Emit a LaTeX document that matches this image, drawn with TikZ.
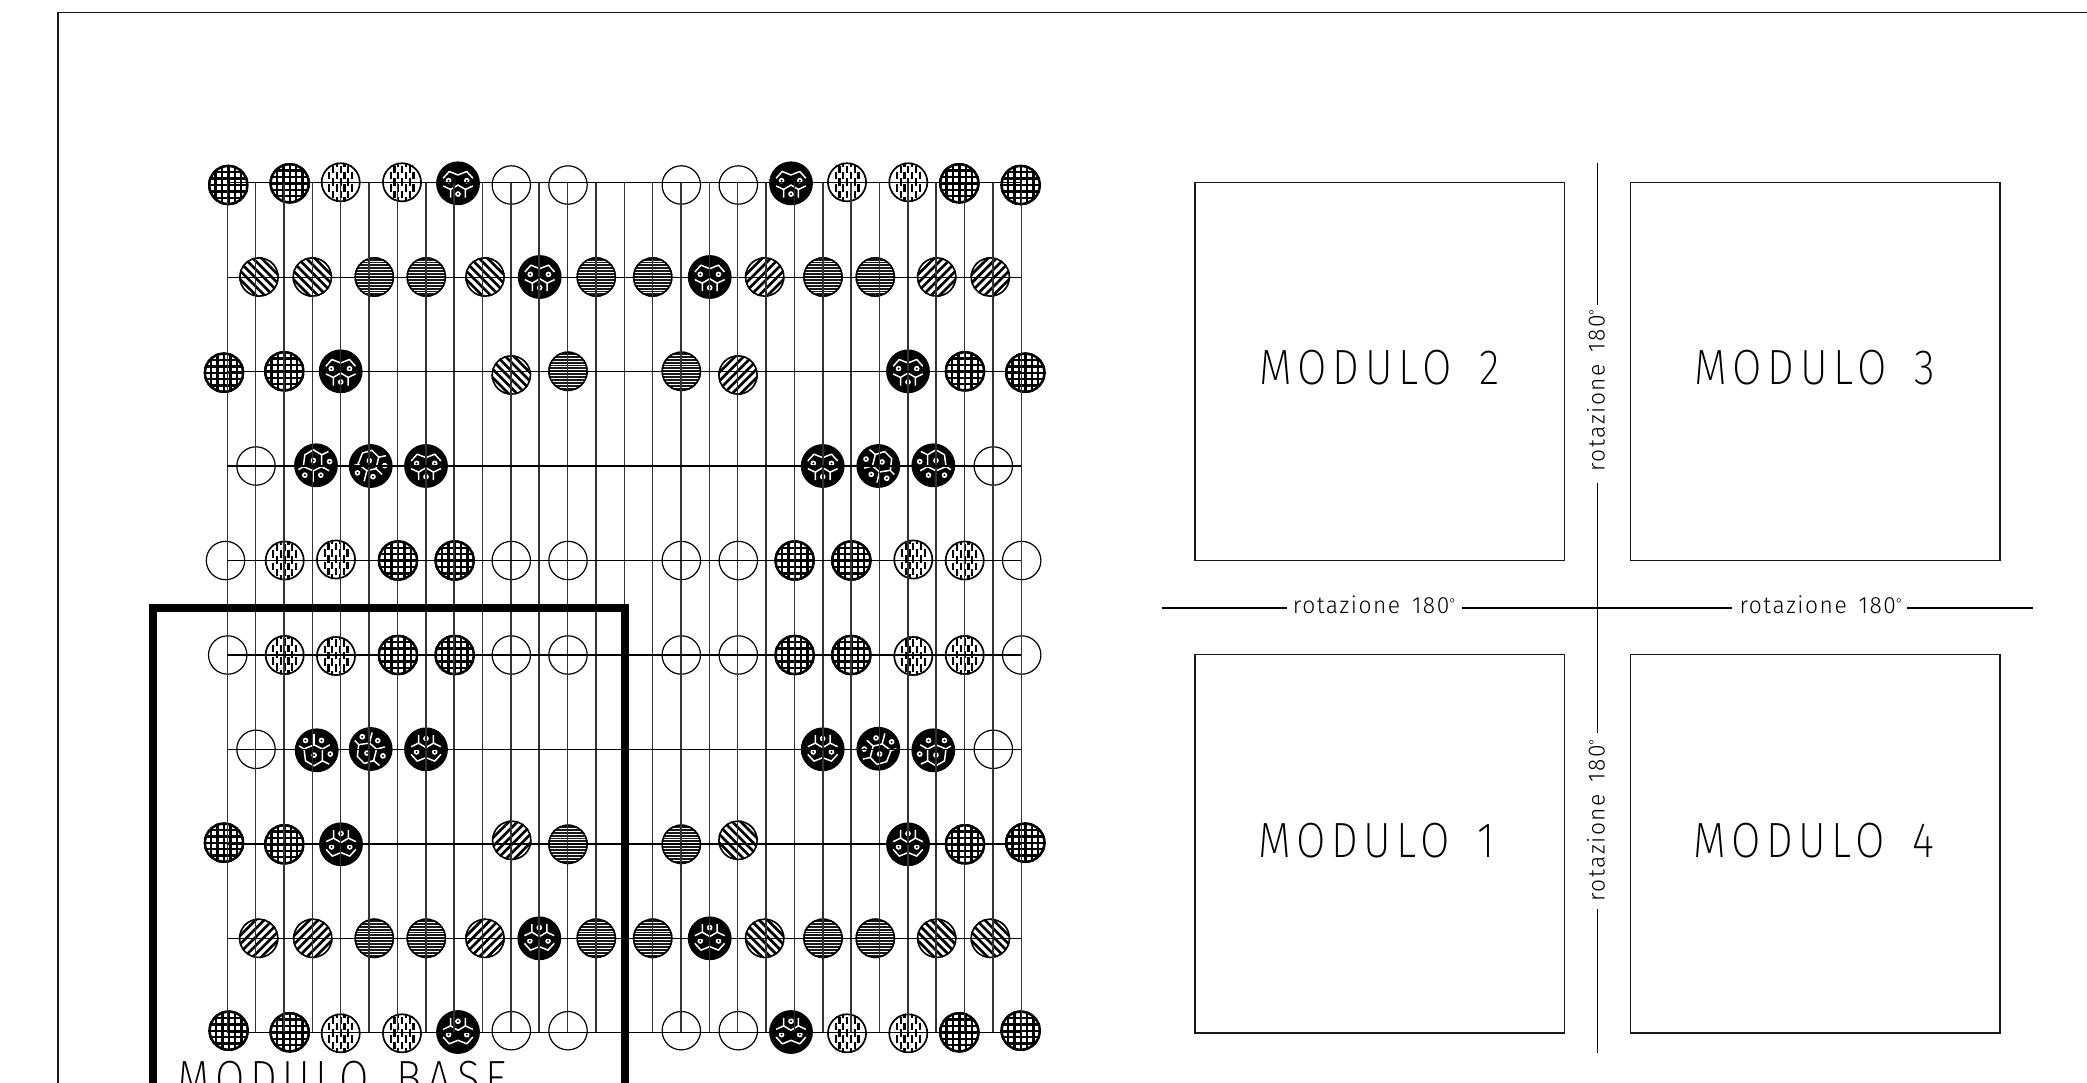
\documentclass[tikz,border=0pt]{standalone}
\usepackage{fontspec}
\newfontfamily\cadbig[FakeStretch=0.86,LetterSpace=11.5]{Fira Sans ExtraLight}
\newfontfamily\cadsmall[FakeStretch=0.97,LetterSpace=6.5]{Fira Sans Light}
\newcommand{\rotlabel}{rotazione\hspace{4pt} 180\raisebox{5.5pt}{\fontsize{14}{14}\selectfont°}}
\tikzset{
  vline/.style={line width=1.5pt,black!80},
  hline/.style={line width=1.2pt,black},
  boxline/.style={line width=1.4pt,black!90},
  axisline/.style={line width=1.3pt,black},
  whiteline/.style={white,line width=1.5pt,line join=round},
  bigtext/.style={inner sep=0pt,anchor=base west,font=\cadbig\fontsize{49.5}{49.5}\selectfont},
  smalltext/.style={inner sep=0pt,anchor=base west,font=\cadsmall\fontsize{23.5}{23.5}\selectfont},
}
\newcommand{\dgrid}[2]{\begin{scope}[shift={(#1,#2)},x=1pt,y=1pt]
  \clip (0,0) circle[radius=20.3];
  \foreach \k in {-3,...,3}{
    \draw[line width=2.4pt] (\k*6.4,-21) -- (\k*6.4,21);
    \draw[line width=2.4pt] (-21,\k*6.4) -- (21,\k*6.4);}
  \draw[line width=5pt] (0,0) circle[radius=20.3];
\end{scope}}
\newcommand{\dvert}[2]{\begin{scope}[shift={(#1,#2)},x=1pt,y=1pt]
  \clip (0,0) circle[radius=19.9];
  \foreach \k in {-3,-1,1,3}{
    \foreach \m in {-2,-1,0,1}{
      \draw[line width=2.2pt] (\k*3.8,\m*12.6+3) -- +(0,7.5);}}
  \foreach \k in {-2,0,2}{
    \foreach \m in {-2,-1,0,1,2}{
      \draw[line width=2.2pt] (\k*3.8,\m*12.6-3.3) -- +(0,7.5);}}
  \draw[line width=3.4pt] (0,0) circle[radius=19.9];
\end{scope}}
\newcommand{\dhatch}[3]{\begin{scope}[shift={(#1,#2)},x=1pt,y=1pt,rotate=#3]
  \clip (0,0) circle[radius=19.9];
  \foreach \k in {-3,...,3}{
    \draw[line width=2.7pt] (-21,\k*6+3) -- (21,\k*6+3);}
  \draw[line width=3.2pt] (0,0) circle[radius=19.9];
\end{scope}}
\newcommand{\dhoriz}[2]{\begin{scope}[shift={(#1,#2)},x=1pt,y=1pt]
  \clip (0,0) circle[radius=19.9];
  \foreach \k in {-7,...,7}{
    \draw[line width=1.9pt,black!90] (-21,\k*2.9) -- (21,\k*2.9);}
  \draw[line width=3.2pt] (0,0) circle[radius=19.9];
\end{scope}}
\newcommand{\dempty}[2]{\draw[line width=1.2pt] (#1,#2) circle[radius=19.2];}
\newcommand{\hexdots}[1]{\foreach \p in {#1}{
    \fill[white] \p circle[radius=.13];
    \fill[black] \p circle[radius=.05];}}
% ordinary honeycomb: three cells; #3 is the y unit, signed
\newcommand{\dhex}[3]{\begin{scope}[shift={(#1,#2)},x=21.9pt,y=#3]
  \fill (0,0) circle[radius=1];
  \draw[whiteline] (-.68,.23) -- (-.40,.54) -- (0,.38) -- (.40,.54) -- (.68,.23);
  \draw[whiteline] (-.68,-.12) -- (-.34,-.28) -- (-.34,-.65);
  \draw[whiteline] (.68,-.12) -- (.34,-.28) -- (.34,-.65);
  \draw[whiteline] (-.34,-.28) -- (0,-.08) -- (.34,-.28);
  \hexdots{(-.43,.12),(.40,.12),(0,-.49)}
\end{scope}}
% turned honeycomb: four cells; #3 x unit, #4 y unit, #5 turn
\newcommand{\dhexr}[5]{\begin{scope}[shift={(#1,#2)},x=#3,y=#4,rotate=#5]
  \fill (0,0) circle[radius=1];
  \draw[whiteline] (-.51,.48) -- (-.12,.71) -- (.26,.48) -- (.26,-.06) -- (-.12,-.25) -- (-.58,-.06) -- cycle;
  \draw[whiteline] (.26,.48) -- (.57,.63);
  \draw[whiteline] (.26,-.06) -- (.6,-.25);
  \draw[whiteline] (-.12,-.25) -- (-.12,-.75);
  \draw[whiteline] (-.58,-.06) -- (-.8,-.2);
  \hexdots{(-.12,.22),(.62,.17),(-.51,-.45),(.22,-.45)}
\end{scope}}
\begin{document}
\begin{tikzpicture}[x=1pt,y=-1pt,line cap=butt]
\useasboundingbox (0,0) rectangle (2087,1082);
\clip (0,0) rectangle (2087,1082);
% sheet frame
\coordinate (fa) at (57.8,1090);
\coordinate (fb) at (57.8,12.6);
\coordinate (fc) at (2095,12.6);
\draw[boxline] (fa) -- (fb) -- (fc);
% discs
\foreach \x/\y in {228.3/185,289.7/183.3,959.3/183.3,1020.7/185,
  224/372.7,284.3/371.3,965/371.3,1025.3/372.7,
  398/560.5,454.7/560.5,794.7/560.5,851.3/560.5,
  398/655,454.7/655,794.7/655,851.3/655,
  224/842.7,284.3/844.3,965/844.3,1025.3/842.7,
  228.7/1030.7,289.7/1032.3,959.3/1032.3,1020.7/1030.7}{\dgrid{\x}{\y}}
\foreach \x/\y in {340.7/182.3,402/182.3,847/182.3,908.3/182.3,
  284.7/560.5,336/559.5,913.3/559.5,964.7/560.5,
  284.7/655,336/656,913.3/656,964.7/655,
  340.7/1033.3,402/1033.3,847/1033.3,908.3/1033.3}{\dvert{\x}{\y}}
\foreach \x/\y in {259/277,312.3/277,485/277,511.3/375,764.7/938.3,936.7/938.3,990.3/938.3,738/840.3}{\dhatch{\x}{\y}{-45}}
\foreach \x/\y in {764.7/277,936.7/277,990.3/277,738/375,258.7/938.3,312.7/938.3,485/938.3,511.7/840.3}{\dhatch{\x}{\y}{45}}
\foreach \x/\y in {374.3/277,426.3/277,596.3/277,652.7/277,823/277,875.3/277,
  568/371.3,681.3/371.3,568/844.3,681.3/844.3,
  374.3/938.3,426.3/938.3,596.3/938.3,652.7/938.3,823/938.3,875.3/938.3}{\dhoriz{\x}{\y}}
\foreach \x/\y in {511.3/185,568/185,681.3/185,738.3/185,
  256/466,993.3/466,
  225.5/560.5,511.3/560.5,568/560.5,681.3/560.5,738.3/560.5,1021.7/560.5,
  227.7/655,511.3/655,568/655,681.3/655,738.3/655,1021.7/655,
  256/749.3,993.3/749.3,
  511.3/1030.7,568/1030.7,681.3/1030.7,738.3/1030.7}{\dempty{\x}{\y}}
\foreach \x/\y in {458/183.3,791/183.3,539.7/277,709.7/277,340.7/371.3,908/371.3,426/466,822.7/466}{\dhex{\x}{\y}{21.9pt}}
\foreach \x/\y in {458/1032,791/1032,539.3/938.3,709.7/938.3,341/844.3,908/844.3,426/749.3,822.7/749.3}{\dhex{\x}{\y}{-21.9pt}}
\dhexr{316}{465.3}{21.9pt}{21.9pt}{0}
\dhexr{370.7}{466}{21.9pt}{21.9pt}{-14}
\dhexr{933.3}{465.3}{-21.9pt}{21.9pt}{0}
\dhexr{878.3}{466}{-21.9pt}{21.9pt}{-14}
\dhexr{316.7}{750.3}{21.9pt}{-21.9pt}{0}
\dhexr{370.7}{749}{21.9pt}{-21.9pt}{-14}
\dhexr{933.3}{750.3}{-21.9pt}{-21.9pt}{0}
\dhexr{878.3}{748.7}{-21.9pt}{-21.9pt}{-14}
% net
\foreach \i in {0,...,28}{
  \draw[vline] ({227.3+28.357*\i},182.7) -- ({227.3+28.357*\i},1033);}
\foreach \i in {0,...,9}{
  \draw[hline] (227.3,{182.7+94.46*\i}) -- (1021.3,{182.7+94.46*\i});}
% base module
\coordinate (ba) at (153.2,1095);
\coordinate (bb) at (153.2,608);
\coordinate (bc) at (624.7,608);
\coordinate (bd) at (624.7,1095);
\draw[line width=8.2pt,line join=miter] (ba) -- (bb) -- (bc) -- (bd);
\node[bigtext] (mb) at (177,1095.5) {MODULO\hspace{10pt} BASE};
% modules
\draw[boxline] (1195,182.7) rectangle (1564.7,560.7);
\draw[boxline] (1630.3,182.7) rectangle (2000,560.7);
\draw[boxline] (1195,654.7) rectangle (1564.7,1033);
\draw[boxline] (1630.3,654.7) rectangle (2000,1033);
\node[bigtext] (m2) at (1259.5,384.5) {MODULO\hspace{10pt} 2};
\node[bigtext] (m3) at (1694.5,384.5) {MODULO\hspace{10pt} 3};
\node[bigtext] (m1) at (1258,857) {MODULO\hspace{10pt} 1};
\node[bigtext] (m4) at (1693,857) {MODULO\hspace{10pt} 4};
% rotation axes
\coordinate (h0) at (1161.7,608);
\coordinate (h1) at (1287.3,608);
\coordinate (h2) at (1461.7,608);
\coordinate (h3) at (1731.7,608);
\coordinate (h4) at (1907.3,608);
\coordinate (h5) at (2033.3,608);
\draw[axisline] (h0) -- (h1);
\draw[axisline] (h2) -- (h3);
\draw[axisline] (h4) -- (h5);
\coordinate (v0) at (1597.3,162.7);
\coordinate (v1) at (1597.3,305);
\coordinate (v2) at (1597.3,482.7);
\coordinate (v3) at (1597.3,733.3);
\coordinate (v4) at (1597.3,909);
\coordinate (v5) at (1597.3,1053);
\draw[axisline] (v0) -- (v1);
\draw[axisline] (v2) -- (v3);
\draw[axisline] (v4) -- (v5);
\node[smalltext] (ra) at (1292.7,613.5) {\rotlabel};
\node[smalltext] (rb) at (1739.3,613.5) {\rotlabel};
\node[smalltext,rotate=90] (rc) at (1604.7,471.7) {\rotlabel};
\node[smalltext,rotate=90] (rd) at (1604.7,901.7) {\rotlabel};
\end{tikzpicture}
\end{document}
